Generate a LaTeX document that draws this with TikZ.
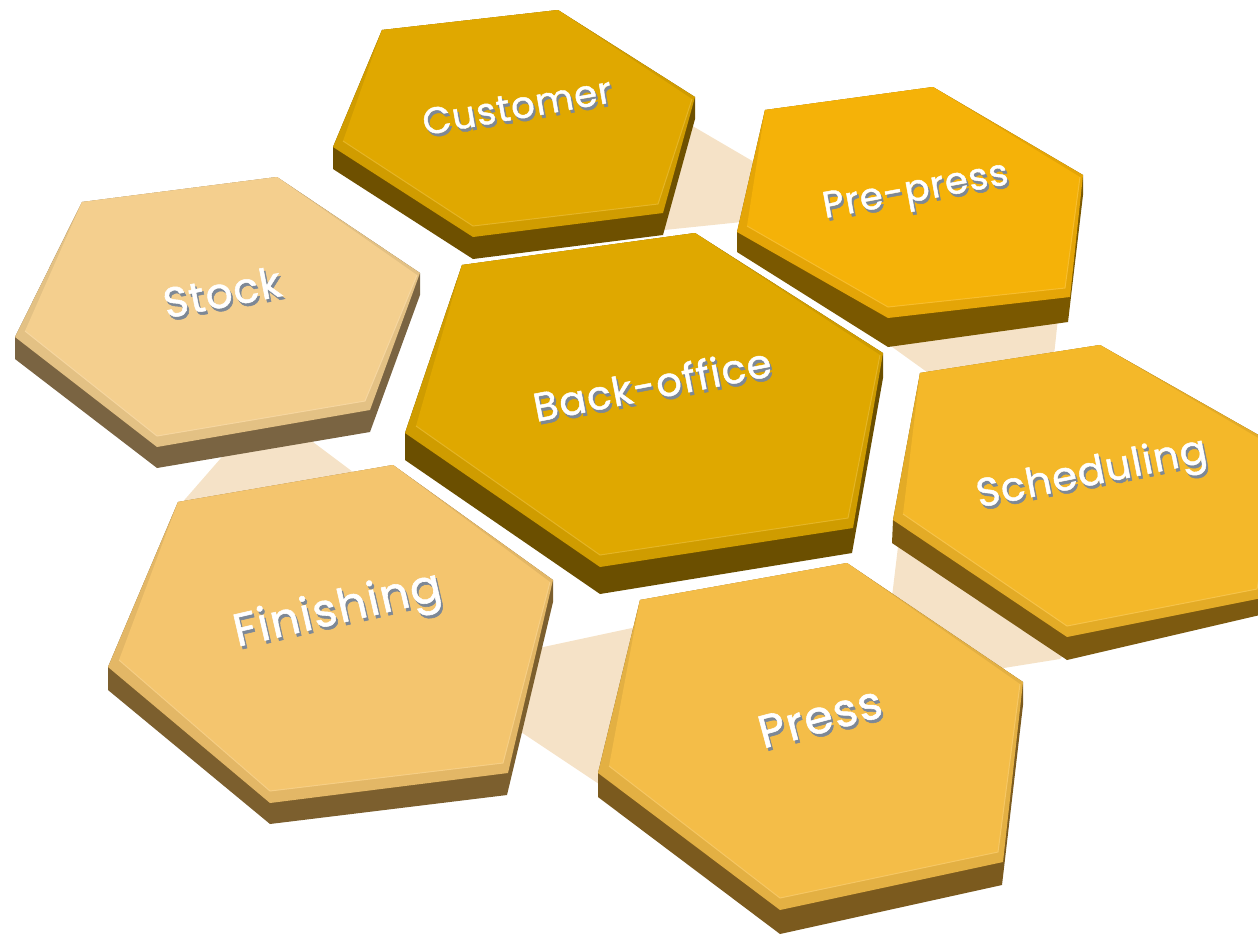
\documentclass[tikz,border=0pt]{standalone}
\usepackage{fontspec}
\setmainfont{Poppins}
\newfontfamily\hexfont{Poppins}[FakeBold=1.2, LetterSpace=3]
\usepackage{tikz}

\definecolor{bandc}{HTML}{F5E2C7}
\definecolor{shadowc}{HTML}{7D8896}
\definecolor{custface}{HTML}{E0A800}
\definecolor{custside}{HTML}{6E5000}
\definecolor{prepface}{HTML}{F5B208}
\definecolor{prepside}{HTML}{7A5800}
\definecolor{stockface}{HTML}{F4CF8E}
\definecolor{stockside}{HTML}{7A6442}
\definecolor{backface}{HTML}{DFA800}
\definecolor{backside}{HTML}{6B4F00}
\definecolor{schedface}{HTML}{F4B829}
\definecolor{schedside}{HTML}{7D5A10}
\definecolor{finface}{HTML}{F4C56E}
\definecolor{finside}{HTML}{7C5F2E}
\definecolor{pressface}{HTML}{F4BD48}
\definecolor{pressside}{HTML}{7B5A1E}

\tikzset{
  hexlabel/.style={text=white, inner sep=0pt, font=\hexfont\fontsize{#1}{#1}\selectfont},
  hexshadow/.style={text=shadowc, inner sep=0pt, font=\hexfont\fontsize{#1}{#1}\selectfont},
  bevelline/.style={line width=1pt, line join=round}
}

\begin{document}
\begin{tikzpicture}[x=1pt,y=-1pt]
                \useasboundingbox (0,0) rectangle (1258,935);
                \clip (0,0) rectangle (1258,935);
                \fill [bandc] (660,107) -- (790,183) -- (790,217) -- (645,232) -- cycle;
                \fill [bandc] (888,344) -- (1058,318) -- (1053,365) -- (945,385) -- cycle;
                \fill [bandc] (900,530) -- (1070,648) -- (1060,659) -- (960,675) -- (891,605) -- cycle;
                \fill [bandc] (520,652) -- (660,622) -- (620,798) -- (500,718) -- cycle;
                \fill [bandc] (228,450) -- (305,436) -- (365,481) -- (180,505) -- cycle;

                \fill [custside] (333,147) -- (333,169) -- (473,259) -- (663,235) -- (695,119) -- (695,97) -- (558,10) -- (382,30) -- cycle;
                \fill [custface!93!black] (382,30) -- (558,10) -- (695,97) -- (663,213) -- (473,237) -- (333,147) -- cycle;
                \fill [custface] (382,30) -- (558,10) -- (692,99) -- (658,204) -- (473,226) -- (343,141) -- cycle;
                \draw [bevelline, custface!85!white] (343,141) -- (473,226) -- (658,204) -- (692,99);

                \fill [prepside] (737,232) -- (737,252) -- (888,347) -- (1068,322) -- (1083,195) -- (1083,175) -- (933,87) -- (765,110) -- cycle;
                \fill [prepface!93!black] (765,110) -- (933,87) -- (1083,175) -- (1070,297) -- (888,318) -- (737,232) -- cycle;
                \fill [prepface] (765,110) -- (933,87) -- (1080,177) -- (1065,288) -- (888,307) -- (747,226) -- cycle;
                \draw [bevelline, prepface!85!white] (747,226) -- (888,307) -- (1065,288) -- (1080,177);

                \fill [stockside] (15,337) -- (15,359) -- (157,468) -- (370,432) -- (420,295) -- (420,273) -- (277,177) -- (82,202) -- cycle;
                \fill [stockface!93!black] (82,202) -- (277,177) -- (420,273) -- (370,410) -- (157,447) -- (15,337) -- cycle;
                \fill [stockface] (82,202) -- (277,177) -- (417,275) -- (365,401) -- (157,436) -- (25,331) -- cycle;
                \draw [bevelline, stockface!85!white] (25,331) -- (157,436) -- (365,401) -- (417,275);

                \fill [backside] (405,433) -- (405,460) -- (600,594) -- (852,553) -- (883,378) -- (883,353) -- (695,233) -- (462,265) -- cycle;
                \fill [backface!93!black] (462,265) -- (695,233) -- (883,353) -- (853,528) -- (600,567) -- (405,433) -- cycle;
                \fill [backface] (462,265) -- (695,233) -- (880,355) -- (848,518) -- (600,555) -- (416,426) -- cycle;
                \draw [bevelline, backface!85!white] (416,426) -- (600,555) -- (848,518) -- (880,355);

                \fill [schedside] (893,520) -- (892,543) -- (1067,660) -- (1260,615) -- (1285,470) -- (1285,450) -- (1100,345) -- (920,373) -- cycle;
                \fill [schedface!93!black] (920,373) -- (1100,345) -- (1285,450) -- (1262,598) -- (1067,637) -- (893,520) -- cycle;
                \fill [schedface] (920,373) -- (1100,345) -- (1282,452) -- (1257,589) -- (1067,626) -- (903,514) -- cycle;
                \draw [bevelline, schedface!85!white] (903,514) -- (1067,626) -- (1257,589) -- (1282,452);

                \fill [finside] (108,667) -- (108,690) -- (270,824) -- (507,795) -- (553,602) -- (553,580) -- (393,465) -- (178,502) -- cycle;
                \fill [finface!93!black] (178,502) -- (393,465) -- (553,580) -- (508,773) -- (270,803) -- (108,667) -- cycle;
                \fill [finface] (178,502) -- (393,465) -- (550,582) -- (503,763) -- (270,791) -- (119,660) -- cycle;
                \draw [bevelline, finface!85!white] (119,660) -- (270,791) -- (503,763) -- (550,582);

                \fill [pressside] (598,773) -- (598,797) -- (780,934) -- (1002,885) -- (1023,705) -- (1023,682) -- (847,563) -- (640,600) -- cycle;
                \fill [pressface!93!black] (640,600) -- (847,563) -- (1023,682) -- (1003,862) -- (780,910) -- (598,773) -- cycle;
                \fill [pressface] (640,600) -- (847,563) -- (1020,684) -- (998,852) -- (780,898) -- (609,766) -- cycle;
                \draw [bevelline, pressface!85!white] (609,766) -- (780,898) -- (998,852) -- (1020,684);

                \node [hexshadow=37, rotate=10] (custS) at (519,109) {Customer};
                \node [hexlabel=37, rotate=10] (cust) at (517,106) {Customer};
                \node [hexshadow=37, rotate=10.5] (prepS) at (918,196) {Pre-press};
                \node [hexlabel=37, rotate=10.5] (prep) at (916,193) {Pre-press};
                \node [hexshadow=42, rotate=11] (stockS) at (224,295) {Stock};
                \node [hexlabel=42, rotate=11] (stock) at (222,292) {Stock};
                \node [hexshadow=40, rotate=11] (backS) at (654,387) {Back-office};
                \node [hexlabel=40, rotate=11] (back) at (652,384) {Back-office};
                \node [hexshadow=40, rotate=11.3] (schedS) at (1094,478) {Scheduling};
                \node [hexlabel=40, rotate=11.3] (sched) at (1092,475) {Scheduling};
                \node [hexshadow=46, rotate=13] (finS) at (340,615) {Finishing};
                \node [hexlabel=46, rotate=13] (fin) at (338,612) {Finishing};
                \node [hexshadow=46, rotate=15] (pressS) at (822,720) {Press};
                \node [hexlabel=46, rotate=15] (press) at (820,717) {Press};
            \end{tikzpicture}
\end{document}
